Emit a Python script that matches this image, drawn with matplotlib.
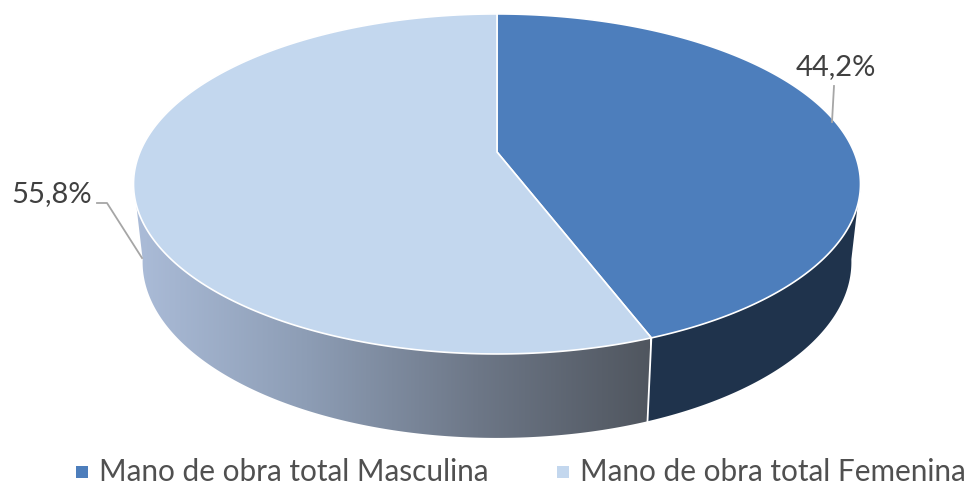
#%% 3D style pie, drawn by hand because matplotlib has no tilted pie
import numpy as np
import matplotlib
matplotlib.use("Agg")
import matplotlib.pyplot as plt
from matplotlib.patches import Polygon, Rectangle
from matplotlib.colors import LinearSegmentedColormap

#%% Data
categories = ['Mano de obra total Masculina', 'Mano de obra total Femenina']
shares = [44.2, 55.8]
labels = ['44,2%', '55,8%']

#%% Globals
W, H = 971, 487
cx, apex_y = 497, 152
a, b, p = 357, 164, 0.188
top_colors = ['#4d7ebc', '#c3d7ee']
dark_side = '#1f334c'
grey = '#a6a6a6'
text_col = '#404040'
legend_col = '#505050'

plt.rcParams['font.family'] = ['Lato', 'DejaVu Sans']


def top_pts(t):
    # t is clockwise from 12 o'clock, perspective squeezes the far half
    u, v = np.sin(t), -np.cos(t)
    w = 1 - p * v
    return cx + a * u / w, apex_y + b * v / w


def low_pts(t):
    x, y = top_pts(t)
    return cx + (x - cx) * 0.975, 262 + (y - 184) * 1.035


def wall(t0, t1):
    t = np.linspace(t0, t1, 200)
    x1, y1 = top_pts(t)
    x2, y2 = low_pts(t[::-1])
    return np.column_stack([np.r_[x1, x2], np.r_[y1, y2]])


fig = plt.figure(figsize=(W / 100, H / 100), dpi=100)
ax = fig.add_axes([0, 0, 1, 1])
ax.set_xlim(0, W)
ax.set_ylim(H, 0)
ax.axis('off')

split = 2 * np.pi * shares[0] / sum(shares)

#%% side walls
ax.add_patch(Polygon(wall(np.radians(100), split), fc=dark_side, ec='none'))
ax.add_line(plt.Line2D(*zip(top_pts(split), low_pts(split)), color='white', lw=1.3, zorder=3))

grad = LinearSegmentedColormap.from_list('side', ['#abbcd8', '#8d9db5', '#6d7787', '#50565f'])
left_wall = Polygon(wall(split, np.radians(260)), fc='none', ec='none')
ax.add_patch(left_wall)
im = ax.imshow(np.linspace(0, 1, 256).reshape(1, -1), cmap=grad, aspect='auto',
               extent=[135, 650, 440, 180], zorder=2)
im.set_clip_path(left_wall)
ax.set_xlim(0, W)
ax.set_ylim(H, 0)

#%% top face
start = 0
for share, col in zip(shares, top_colors):
    end = start + 2 * np.pi * share / sum(shares)
    x, y = top_pts(np.linspace(start, end, 300))
    pts = np.column_stack([np.r_[cx, x], np.r_[apex_y, y]])
    ax.add_patch(Polygon(pts, fc=col, ec='white', lw=1.2, zorder=4))
    start = end

#%% data labels and leader lines
ax.plot([832, 834], [122, 86], color=grey, lw=1.3, zorder=5)
ax.plot([97, 107, 142], [203, 203, 258], color=grey, lw=1.3, zorder=5)
ax.text(836, 67, labels[0], fontsize=21, color=text_col, ha='center', va='center')
ax.text(52, 194, labels[1], fontsize=21, color=text_col, ha='center', va='center')

#%% legend
for name, col, xm, xt in zip(categories, top_colors, [76, 557], [99, 580]):
    ax.add_patch(Rectangle((xm, 466), 12, 12, fc=col, ec='none'))
    ax.text(xt, 472, name, fontsize=21.4, color=legend_col, ha='left', va='center')

fig.savefig('out.png', dpi=100)
